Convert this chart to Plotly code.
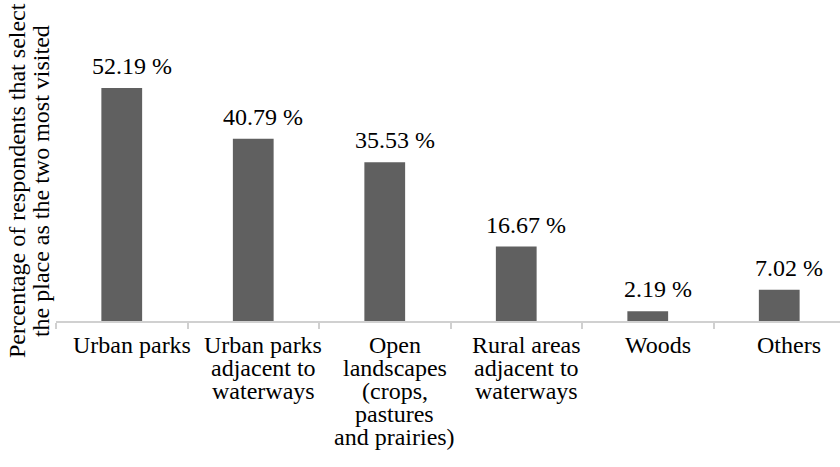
import plotly.graph_objects as go

categories = ["Urban parks", "Urban parks adjacent to waterways",
              "Open landscapes (crops, pastures and prairies)",
              "Rural areas adjacent to waterways", "Woods", "Others"]
values = [52.19, 40.79, 35.53, 16.67, 2.19, 7.02]
value_labels = ["52.19 %", "40.79 %", "35.53 %", "16.67 %", "2.19 %", "7.02 %"]
tick_lines = [
    ["Urban parks"],
    ["Urban parks", "adjacent to", "waterways"],
    ["Open", "landscapes", "(crops,", "pastures", "and prairies)"],
    ["Rural areas", "adjacent to", "waterways"],
    ["Woods"],
    ["Others"],
]
y_title_lines = ["Percentage of respondents that select",
                 "the place as the two most visited"]

FONT = "Times New Roman, Liberation Serif, serif"
FS = 24
LINE = 23.0

fig = go.Figure(go.Bar(
    x=categories, y=values, width=0.31,
    marker=dict(color="#606060", line=dict(width=0)),
    hoverinfo="skip",
))

ann = []
for c, v, lab in zip(categories, values, value_labels):
    ann.append(dict(x=c, y=v, xref="x", yref="y", text=lab, showarrow=False,
                    xanchor="center", yanchor="bottom", xshift=10, yshift=7,
                    font=dict(family=FONT, size=FS, color="black")))
for c, lines in zip(categories, tick_lines):
    for i, ln in enumerate(lines):
        ann.append(dict(x=c, y=0, xref="x", yref="paper", text=ln, showarrow=False,
                        xanchor="center", yanchor="top", xshift=10,
                        yshift=-9 - i * LINE,
                        font=dict(family=FONT, size=FS, color="black")))
for i, ln in enumerate(y_title_lines):
    ann.append(dict(x=0, y=0.522, xref="paper", yref="paper", text=ln, showarrow=False,
                    textangle=-90, xanchor="center", yanchor="middle",
                    xshift=-39 + i * 24,
                    font=dict(family=FONT, size=FS, color="black")))

fig.update_layout(
    width=840, height=467,
    margin=dict(l=56, r=0, t=53, b=146, pad=0),
    paper_bgcolor="white", plot_bgcolor="white",
    font=dict(family=FONT, size=FS, color="black"),
    showlegend=False,
    annotations=ann,
    xaxis=dict(type="category", range=[-0.5, 5.462], showticklabels=False,
               showline=True, linecolor="#d0d0d0", linewidth=2,
               ticks="outside", tickson="boundaries", ticklen=6, tickwidth=2,
               tickcolor="#d0d0d0", showgrid=False, zeroline=False,
               fixedrange=True),
    yaxis=dict(range=[0, 60], visible=False, showgrid=False, zeroline=False,
               fixedrange=True),
)

fig.write_html("out.html", config={"displayModeBar": False},
               post_script="document.body.style.margin='0';document.body.style.overflow='hidden';")
